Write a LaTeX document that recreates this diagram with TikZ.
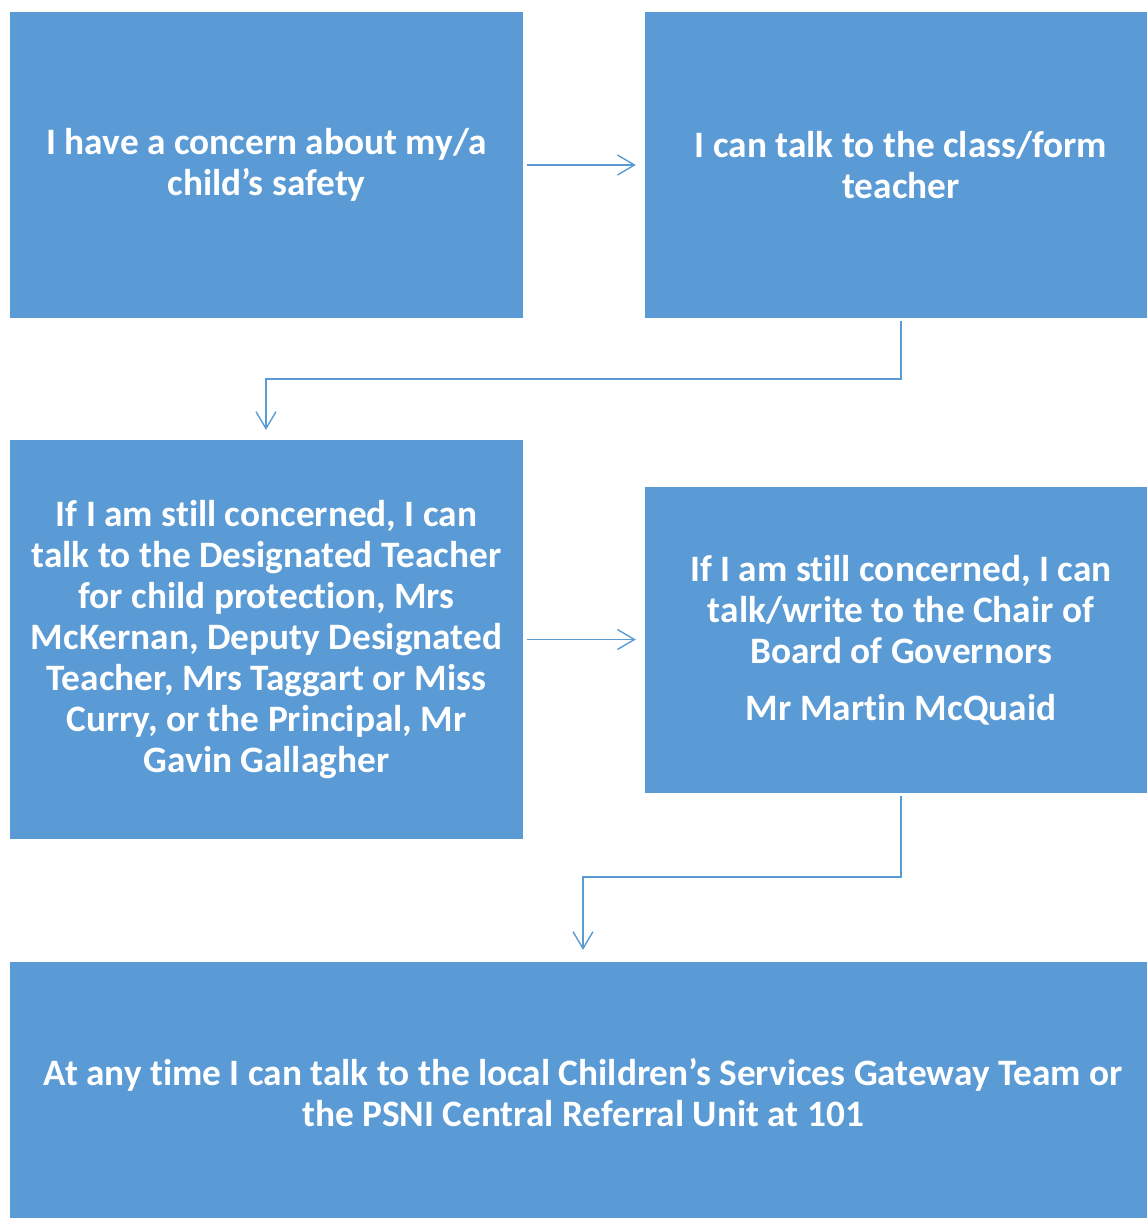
\documentclass[tikz,border=0pt]{standalone}
\usepackage{fontspec}
\setmainfont[Ligatures={NoCommon,NoRequired,NoContextual}]{Carlito}
\usetikzlibrary{arrows.meta}
\newcommand\tix{t\kern0pt i}
\definecolor{boxblue}{HTML}{5B9BD5}
\definecolor{lineblue}{HTML}{5B9BD5}
\tikzset{
  box/.style={fill=boxblue, draw=none, text=white, align=center, inner sep=0pt,
    font=\fontsize{37.3}{41}\selectfont\bfseries},
  arr/.style={draw=lineblue, line width=1.4pt, -{Straight Barb[length=17pt,width=20pt,line width=1.4pt]}},
}
\begin{document}
\begin{tikzpicture}[x=1pt,y=-1pt]
\useasboundingbox (0,0) rectangle (1146,1218);
\node[box, minimum width=513pt, minimum height=306pt] (b1) at (266.5,165)
  {I have a concern about my/a\\child’s safety};
\node[box, minimum width=512pt, minimum height=306pt] (b2) at (901,165)
  {I can talk to the class/form\\teacher};
\node[box, minimum width=513pt, minimum height=399pt] (b3) at (266.5,639.5)
  {If I am s\tix ll concerned, I can\\talk to the Designated Teacher\\for child protec\tix on, Mrs\\McKernan, Deputy Designated\\Teacher, Mrs Taggart or Miss\\Curry, or the Principal, Mr\\Gavin Gallagher};
\node[box, minimum width=512pt, minimum height=306pt] (b4) at (901,640)
  {If I am s\tix ll concerned, I can\\talk/write to the Chair of\\Board of Governors\\[16pt]Mr Mar\tix n McQuaid};
\node[box, minimum width=1146pt, minimum height=262pt] (b5) at (583,1093)
  {At any \tix me I can talk to the local Children’s Services Gateway Team or\\the PSNI Central Referral Unit at 101};
\coordinate (k1) at (901,379);
\coordinate (e1) at (266,430);
\coordinate (k2) at (901,877);
\coordinate (e2) at (583,950);
\draw[arr] ([xshift=4pt]b1.east) -- ([xshift=-9pt]b2.west);
\draw[arr] ([xshift=4pt]b3.east) -- ([xshift=-9pt]b4.west |- b3.east);
\draw[arr] (k1 |- b2.south) ++(0,3) -- (k1) -| (e1);
\draw[arr] (k2 |- b4.south) ++(0,3) -- (k2) -| (e2);
\end{tikzpicture}
\end{document}
